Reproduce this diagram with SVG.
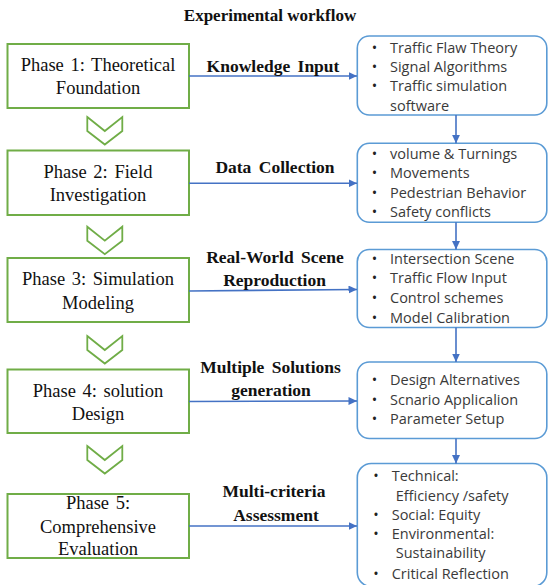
<svg xmlns="http://www.w3.org/2000/svg" width="548" height="585" viewBox="0 0 548 585">
<style>
.title{font-family:"Liberation Serif","Times New Roman",serif;font-size:17px;font-weight:bold;fill:#111;text-anchor:middle}
.phase rect{fill:#fff;stroke:#70AD47;stroke-width:2}
.ptxt{font-family:"Liberation Serif","Times New Roman",serif;font-size:18.5px;fill:#111;text-anchor:middle;word-spacing:2px}
.lbl{font-family:"Liberation Serif","Times New Roman",serif;font-size:17.5px;font-weight:bold;fill:#111;text-anchor:middle;word-spacing:3px}
.chev{fill:#fff;stroke:#70AD47;stroke-width:1.8;stroke-linejoin:miter}
.info rect{fill:#fff;stroke:#5B9BD5;stroke-width:1.6}
.itxt{font-family:"Open Sans","Noto Sans",sans-serif;font-size:14.5px;fill:#3a3a3a}
.bul{font-family:"Open Sans","Noto Sans",sans-serif;font-size:14.5px;fill:#222;text-anchor:middle}
.conn line{stroke:#4472C4;stroke-width:1.6;fill:none;marker-end:url(#ah)}
</style>
<defs>
<marker id="ah" markerUnits="userSpaceOnUse" markerWidth="9" markerHeight="8" refX="8.5" refY="4" orient="auto">
<path d="M0,0 L8.5,4 L0,8 z" fill="#4472C4"/>
</marker>
<polygon id="chevron" class="chev" points="87.3,0 104.8,14 122.3,0 122.3,14 104.8,27.5 87.3,14"/>
</defs>

<text class="title" x="270" y="21">Experimental workflow</text>

<g id="phase1" class="phase">
<rect x="7.5" y="44" width="181.5" height="64"/>
<text class="ptxt" x="98" y="71">Phase 1: Theoretical</text>
<text class="ptxt" x="98" y="94.3">Foundation</text>
</g>
<g id="phase2" class="phase">
<rect x="7.5" y="150.5" width="181.5" height="64.5"/>
<text class="ptxt" x="98" y="177.7">Phase 2: Field</text>
<text class="ptxt" x="98" y="201">Investigation</text>
</g>
<g id="phase3" class="phase">
<rect x="7.5" y="258" width="181.5" height="64"/>
<text class="ptxt" x="98" y="285">Phase 3: Simulation</text>
<text class="ptxt" x="98" y="309">Modeling</text>
</g>
<g id="phase4" class="phase">
<rect x="7.5" y="369.5" width="181.5" height="63.5"/>
<text class="ptxt" x="98" y="396.7">Phase 4: solution</text>
<text class="ptxt" x="98" y="420">Design</text>
</g>
<g id="phase5" class="phase">
<rect x="7.5" y="494" width="181.5" height="64"/>
<text class="ptxt" x="98" y="509.3">Phase 5:</text>
<text class="ptxt" x="98" y="532.7">Comprehensive</text>
<text class="ptxt" x="98" y="555">Evaluation</text>
</g>

<g id="chevrons">
<use href="#chevron" y="117"/>
<use href="#chevron" y="226.7"/>
<use href="#chevron" y="336"/>
<use href="#chevron" y="446"/>
</g>

<g id="info1" class="info">
<rect x="357.3" y="36" width="189.5" height="79" rx="12"/>
<text class="bul" x="374.5" y="52.7">•</text><text class="itxt" x="390" y="52.7">Traffic Flaw Theory</text>
<text class="bul" x="374.5" y="71.7">•</text><text class="itxt" x="390" y="71.7">Signal Algorithms</text>
<text class="bul" x="374.5" y="91">•</text><text class="itxt" x="390" y="91">Traffic simulation</text>
<text class="itxt" x="390" y="110.7">software</text>
</g>
<g id="info2" class="info">
<rect x="357.3" y="143.3" width="189.5" height="79" rx="12"/>
<text class="bul" x="374.5" y="159.3">•</text><text class="itxt" x="390" y="159.3">volume &amp; Turnings</text>
<text class="bul" x="374.5" y="178.3">•</text><text class="itxt" x="390" y="178.3">Movements</text>
<text class="bul" x="374.5" y="198.3">•</text><text class="itxt" x="390" y="198.3">Pedestrian Behavior</text>
<text class="bul" x="374.5" y="217.3">•</text><text class="itxt" x="390" y="217.3">Safety conflicts</text>
</g>
<g id="info3" class="info">
<rect x="357.3" y="249.5" width="189.5" height="78" rx="12"/>
<text class="bul" x="374.5" y="264.3">•</text><text class="itxt" x="390" y="264.3">Intersection Scene</text>
<text class="bul" x="374.5" y="283.3">•</text><text class="itxt" x="390" y="283.3">Traffic Flow Input</text>
<text class="bul" x="374.5" y="303.3">•</text><text class="itxt" x="390" y="303.3">Control schemes</text>
<text class="bul" x="374.5" y="322.7">•</text><text class="itxt" x="390" y="322.7">Model Calibration</text>
</g>
<g id="info4" class="info">
<rect x="357.3" y="362" width="189.5" height="76.5" rx="12"/>
<text class="bul" x="374.5" y="385">•</text><text class="itxt" x="390" y="385">Design Alternatives</text>
<text class="bul" x="374.5" y="405">•</text><text class="itxt" x="390" y="405">Scnario Applicalion</text>
<text class="bul" x="374.5" y="424.3">•</text><text class="itxt" x="390" y="424.3">Parameter Setup</text>
</g>
<g id="info5" class="info">
<rect x="357.3" y="463.5" width="189.5" height="123" rx="14"/>
<text class="bul" x="376" y="481">•</text><text class="itxt" x="391.7" y="481">Technical:</text>
<text class="itxt" x="395.7" y="500.7">Efficiency /safety</text>
<text class="bul" x="376" y="520">•</text><text class="itxt" x="391.7" y="520">Social: Equity</text>
<text class="bul" x="376" y="539.3">•</text><text class="itxt" x="391.7" y="539.3">Environmental:</text>
<text class="itxt" x="395.7" y="558.3">Sustainability</text>
<text class="bul" x="376" y="578.5">•</text><text class="itxt" x="391.7" y="578.5">Critical Reflection</text>
</g>

<g id="connectors" class="conn">
<line x1="189" y1="76" x2="357" y2="76"/>
<line x1="189" y1="183.3" x2="357" y2="183.3"/>
<line x1="189" y1="291" x2="357" y2="289.5"/>
<line x1="189" y1="401.5" x2="357" y2="401"/>
<line x1="189" y1="526" x2="357" y2="526"/>
<line x1="456" y1="115" x2="456" y2="143.3"/>
<line x1="456" y1="222.3" x2="456" y2="249.5"/>
<line x1="456" y1="327.5" x2="456" y2="362"/>
<line x1="456" y1="438.5" x2="456" y2="463.5"/>
</g>

<g id="labels">
<text class="lbl" x="273" y="71.7">Knowledge Input</text>
<text class="lbl" x="275" y="172.7">Data Collection</text>
<text class="lbl" x="275" y="263.3">Real-World Scene</text>
<text class="lbl" x="274.5" y="285.7">Reproduction</text>
<text class="lbl" x="270.5" y="373.3">Multiple Solutions</text>
<text class="lbl" x="271" y="395.7">generation</text>
<text class="lbl" x="274" y="497.3">Multi-criteria</text>
<text class="lbl" x="276" y="521">Assessment</text>
</g>
</svg>
